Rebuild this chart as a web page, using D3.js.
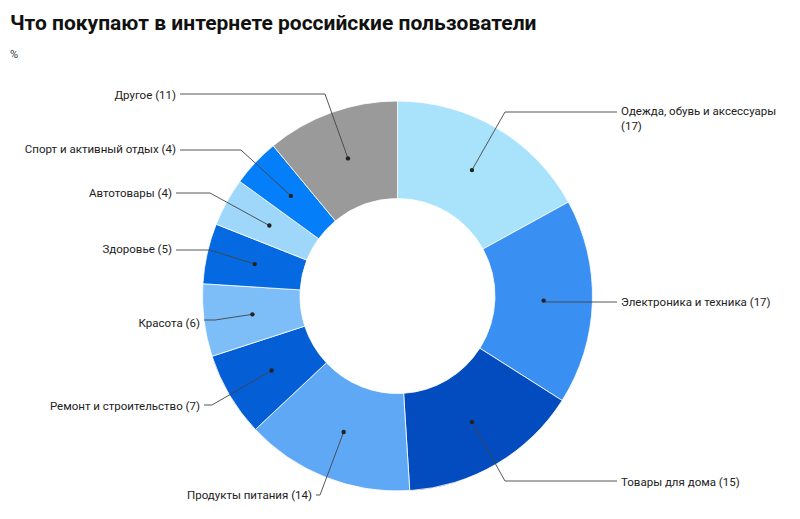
<!DOCTYPE html>
<html><head><meta charset="utf-8">
<script src="https://cdn.jsdelivr.net/npm/d3@7"></script>
<style>body{margin:0;background:#fff;font-family:Roboto,"Noto Sans",sans-serif}</style>
</head><body><svg id="chart"></svg>
<script>
const categories = ["Одежда, обувь и аксессуары", "Электроника и техника", "Товары для дома", "Продукты питания",
  "Ремонт и строительство", "Красота", "Здоровье", "Автотовары", "Спорт и активный отдых", "Другое"];
const values = [17, 17, 15, 14, 7, 6, 5, 4, 4, 11];
const colors = ["#a9e3fb", "#3a90f2", "#034cbf", "#5ea8f6", "#045ed6", "#7dbdf8", "#056ae1", "#9fd7fa", "#047ef9", "#9a9a9a"];
// label layout: elbow point, text x, text y, side
const labelPos = [
  {ex: 505, ey: 112, tx: 621, ty: 115, side: "r"},
  {ex: 545, ey: 302, tx: 621, ty: 306, side: "r"},
  {ex: 505, ey: 481, tx: 621, ty: 486, side: "r"},
  {ex: 320, ey: 495, tx: 312, ty: 499, side: "l"},
  {ex: 212, ey: 405, tx: 200, ty: 410, side: "l"},
  {ex: 215, ey: 320, tx: 200, ty: 327, side: "l"},
  {ex: 210, ey: 250, tx: 172, ty: 253, side: "l"},
  {ex: 210, ey: 193, tx: 172, ty: 197, side: "l"},
  {ex: 241, ey: 150, tx: 176, ty: 153, side: "l"},
  {ex: 325, ey: 94, tx: 176, ty: 99, side: "l"}
];

const width = 800, height = 519;
const cx = 397.5, cy = 296, rOut = 195, rIn = 97.5;
const svg = d3.select("#chart").attr("width", width).attr("height", height);

svg.append("text").attr("x", 10).attr("y", 30).attr("font-size", 21).attr("font-weight", 700)
  .attr("fill", "#111").text("Что покупают в интернете российские пользователи");
svg.append("text").attr("x", 10).attr("y", 58).attr("font-size", 11).attr("fill", "#333").text("%");

const data = categories.map((c, i) => ({name: c, value: values[i], color: colors[i], lp: labelPos[i]}));
const pie = d3.pie().value(d => d.value).sort(null);
const arc = d3.arc().innerRadius(rIn).outerRadius(rOut);
const mid = d3.arc().innerRadius(rIn).outerRadius(rOut);
const arcs = pie(data);

const g = svg.append("g").attr("transform", `translate(${cx},${cy})`);
g.selectAll("path").data(arcs).enter().append("path")
  .attr("d", arc).attr("fill", d => d.data.color).attr("stroke", "#fff").attr("stroke-width", 0.8);

arcs.forEach(a => {
  const [mx, my] = mid.centroid(a);
  const px = cx + mx, py = cy + my;
  const lp = a.data.lp;
  const endX = lp.side === "r" ? lp.tx - 4 : lp.tx + 4;
  svg.append("polyline")
    .attr("points", `${px},${py} ${lp.ex},${lp.ey} ${endX},${lp.ey}`)
    .attr("fill", "none").attr("stroke", "#444").attr("stroke-width", 0.9);
  svg.append("circle").attr("cx", px).attr("cy", py).attr("r", 2.2).attr("fill", "#222");
  const t = svg.append("text").attr("x", lp.tx).attr("y", lp.ty).attr("font-size", 11.5).attr("fill", "#222")
    .attr("text-anchor", lp.side === "r" ? "start" : "end");
  if (a.index === 0) {
    t.text(a.data.name);
    svg.append("text").attr("x", lp.tx).attr("y", lp.ty + 15).attr("font-size", 11.5).attr("fill", "#222")
      .text(`(${a.data.value})`);
  } else {
    t.text(`${a.data.name} (${a.data.value})`);
  }
});
</script></body></html>
